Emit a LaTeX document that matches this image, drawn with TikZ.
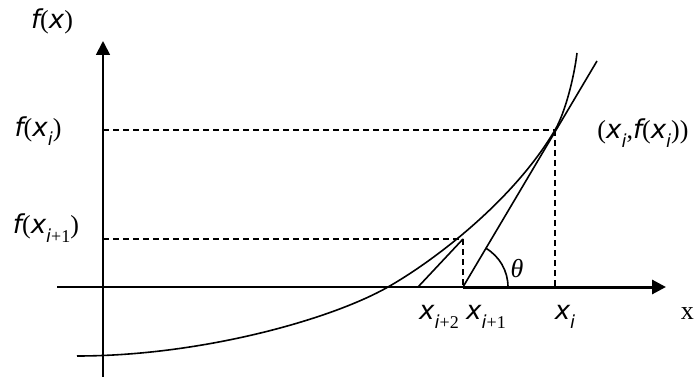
\documentclass[tikz,border=0pt]{standalone}
\usepackage{fontspec}
\usetikzlibrary{arrows.meta}
\newfontfamily\sansf{DejaVu Sans}[ItalicFont={DejaVu Sans Oblique}]
\newfontfamily\serf{Liberation Serif}
\newcommand\SI{\sansf\itshape}
\newcommand\SR{\serf\upshape}
\newcommand\sbs[1]{\raisebox{-0.32em}{\fontsize{18}{18}\selectfont #1}}
\newcommand\xs[1]{{\SI x}\sbs{#1}}
\begin{document}
\begin{tikzpicture}[x=1pt,y=-1pt,
  axis/.style={line width=1.8pt},
  thickaxis/.style={line width=3pt},
  guide/.style={line width=1.4pt, dash pattern=on 6pt off 4pt},
  curve/.style={line width=1.6pt},
  lab/.style={inner sep=0pt, font=\fontsize{26}{30}\selectfont},
  tip/.style={-{Triangle[width=14pt,length=14pt]}}]
\useasboundingbox (0,0) rectangle (694,377);
% points
\coordinate (yb) at (103,377);
\coordinate (yt) at (103,41);
\coordinate (xa) at (57,287);
\coordinate (xb) at (666,287);
\coordinate (C0) at (77,356);
\coordinate (C1) at (388,287);
\coordinate (P) at (555,130);
\coordinate (C3) at (577,53);
\coordinate (Q) at (463,239);
\coordinate (Xi) at (555,287);
\coordinate (Xi1) at (463,287);
\coordinate (Xi2) at (418,287);
\coordinate (Fi) at (103,130);
\coordinate (Fi1) at (103,239);
\coordinate (T) at (597,61);
% axes
\draw[axis,tip] (yb) -- (yt);
\draw[axis] (xa) -- (Xi1);
\draw[thickaxis,tip] (Xi1) -- (xb);
% guides
\draw[guide] (Fi) -- (P);
\draw[guide] (P) -- (Xi);
\draw[guide] (Fi1) -- (Q);
\draw[guide] (Q) -- (Xi1);
% curve
\draw[curve] (C0) .. controls (200,356) and (330,320) .. (C1)
  .. controls (438,258.5) and (515,198) .. (P)
  .. controls (565,113) and (574,78) .. (C3);
% tangents
\draw[curve] (Xi1) -- (T);
\draw[curve] (Xi2) -- (Q);
% angle
\draw[curve] (Xi1) ++(45,0) arc[start angle=0, end angle=-59.6, radius=45];
\node[lab] (th) at (517,269) {\serf\itshape θ};
% labels
\node[lab] (fx) at (52,21) {{\SI f}{\SR(}{\SI x}{\SR)}};
\node[lab] (fxi) at (38,131) {{\SI f}{\SR(}\xs{\SI i}{\SR)}};
\node[lab] (fxi1) at (46,228) {{\SI f}{\SR(}\xs{{\SI i}{\SR +1}}{\SR)}};
\node[lab] (lxi2) at (439,317) {\xs{{\SI i}{\SR +2}}};
\node[lab] (lxi1) at (486,317) {\xs{{\SI i}{\SR +1}}};
\node[lab] (lxi) at (565,317) {\xs{\SI i}};
\node[lab] (pt) at (643,133) {{\SR(}\xs{\SI i}{\SR ,}{\SI f}{\SR(}\xs{\SI i}{\SR))}};
\node[lab,anchor=east] (xname) at (694,314) {\SR x};
\end{tikzpicture}
\end{document}
